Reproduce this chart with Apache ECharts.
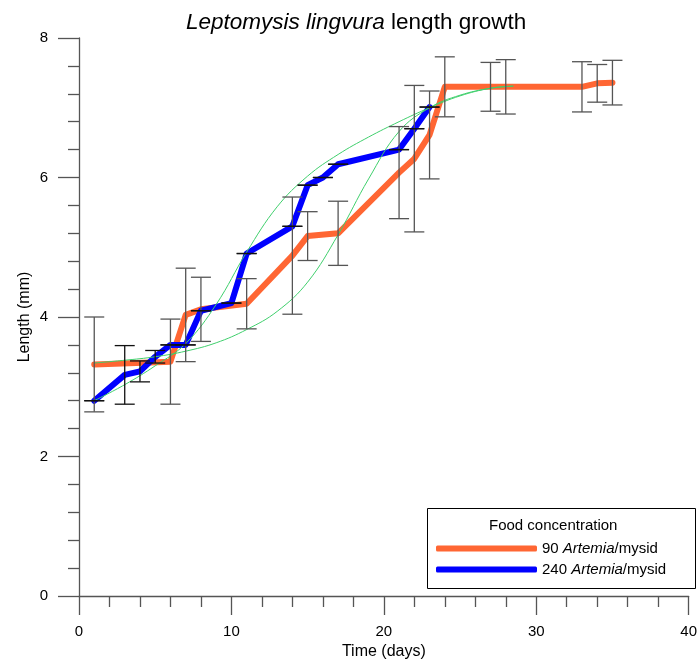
<!DOCTYPE html>
<html>
<head>
<meta charset="utf-8">
<script src="https://cdn.jsdelivr.net/npm/echarts@6/dist/echarts.min.js"></script>
<style>
  html, body { margin: 0; padding: 0; background: #fff; }
</style>
</head>
<body>
<div id="main" style="width: 700px;height:666px;"></div>
<script>
// 90 Artemia/mysid
var days90 = [1, 6, 7, 8, 11, 14, 15, 17, 21, 22, 23, 24, 27, 28, 33, 34, 35]
var len90 = [3.32, 3.36, 4.03, 4.11, 4.19, 4.88, 5.16, 5.20, 6.07, 6.27, 6.61, 7.30, 7.30, 7.30, 7.30, 7.35, 7.36]
var err90 = [0.68, 0.61, 0.67, 0.46, 0.36, 0.84, 0.35, 0.46, 0.66, 1.05, 0.63, 0.43, 0.35, 0.39, 0.36, 0.27, 0.32]

// 240 Artemia/mysid
var days240 = [1, 3, 4, 5, 6, 7, 8, 10, 11, 14, 15, 16, 17, 21, 22, 23]
var len240 = [2.80, 3.17, 3.22, 3.43, 3.60, 3.60, 4.09, 4.20, 4.91, 5.30, 5.89, 6.00, 6.19, 6.40, 6.70, 7.01]
var err240 = [0, 0.42, 0.15, 0.09, 0, 0, 0, 0, 0, 0, 0, 0, 0, 0, 0, 0]

// fitted growth curves (green)
var fitA_x = [1, 3, 5, 7, 9, 11, 13, 15, 17, 19, 21, 23, 25, 27, 28.5]
var fitA_y = [2.80, 3.03, 3.30, 3.62, 4.18, 4.93, 5.58, 6.02, 6.33, 6.58, 6.80, 7.00, 7.17, 7.28, 7.31]
var fitB_x = [1, 3, 5, 7, 9, 11, 13, 15, 17, 19, 21, 23, 25, 27, 28.5]
var fitB_y = [3.34, 3.38, 3.43, 3.51, 3.63, 3.82, 4.08, 4.50, 5.18, 5.98, 6.66, 7.00, 7.18, 7.28, 7.31]

var xTicks = [0, 40, 10]
var yTicks = [0, 8, 2]

var name90 = '90 Artemia/mysid'
var name240 = '240 Artemia/mysid'

var font = "'Liberation Sans', Arial, sans-serif"

function pairs(xs, ys) {
  return xs.map(function (x, i) { return [x, ys[i]] })
}
function bars(xs, ys, es) {
  return xs.map(function (x, i) { return [x, ys[i] - es[i], ys[i] + es[i]] })
}

function errorBar(color) {
  return function (params, api) {
    var x = api.value(0)
    var lo = api.coord([x, api.value(1)])
    var hi = api.coord([x, api.value(2)])
    var w = 10
    var st = { stroke: color, lineWidth: 1.3 }
    return {
      type: 'group',
      children: [
        { type: 'line', shape: { x1: lo[0], y1: lo[1], x2: hi[0], y2: hi[1] }, style: st },
        { type: 'line', shape: { x1: lo[0] - w, y1: lo[1], x2: lo[0] + w, y2: lo[1] }, style: st },
        { type: 'line', shape: { x1: hi[0] - w, y1: hi[1], x2: hi[0] + w, y2: hi[1] }, style: st }
      ]
    }
  }
}

var myChart = echarts.init(document.getElementById('main'))

var option = {
  animation: false,
  textStyle: { fontFamily: font },
  title: {
    text: '{i|Leptomysis lingvura}{n| length growth}',
    left: 181,
    top: 6,
    textStyle: {
      fontWeight: 'normal',
      rich: {
        i: { fontStyle: 'italic', fontWeight: 'normal', fontSize: 22.5, fontFamily: font, color: '#000' },
        n: { fontWeight: 'normal', fontSize: 22.5, fontFamily: font, color: '#000' }
      }
    }
  },
  grid: {
    left: 79,
    right: 9,
    top: 38,
    bottom: 70
  },
  graphic: [
    {
      type: 'rect',
      left: 427,
      top: 508,
      shape: { width: 268, height: 80 },
      style: { fill: '#fff', stroke: '#000', lineWidth: 1 },
      z: 10
    },
    {
      type: 'text',
      left: 489,
      top: 518,
      style: { text: 'Food concentration', fontSize: 15, fontFamily: font, fill: '#000' },
      z: 11
    }
  ],
  legend: {
    orient: 'vertical',
    left: 436,
    top: 541,
    padding: 0,
    icon: 'roundRect',
    itemWidth: 101,
    itemHeight: 6,
    itemGap: 6,
    z: 12,
    data: [name90, name240],
    formatter: function (name) {
      var p = name.split(' ')
      return '{n|' + p[0] + ' }{i|Artemia}{n|/mysid}'
    },
    textStyle: {
      rich: {
        n: { fontSize: 15, fontFamily: font, color: '#000', lineHeight: 18 },
        i: { fontSize: 15, fontFamily: font, fontStyle: 'italic', color: '#000', lineHeight: 18 }
      }
    }
  },
  xAxis: {
    type: 'value',
    min: xTicks[0],
    max: xTicks[1],
    interval: xTicks[2],
    name: 'Time (days)',
    nameLocation: 'middle',
    nameGap: 48,
    nameTextStyle: { fontSize: 16, color: '#000' },
    axisLine: { onZero: false, lineStyle: { color: '#555', width: 1.3 } },
    axisTick: { length: 19, lineStyle: { color: '#555', width: 1.3 } },
    minorTick: { show: true, splitNumber: 5, length: 11, lineStyle: { color: '#555', width: 1.3 } },
    axisLabel: { margin: 28, fontSize: 15, color: '#000' },
    splitLine: { show: false }
  },
  yAxis: {
    type: 'value',
    min: yTicks[0],
    max: yTicks[1],
    interval: yTicks[2],
    name: 'Length (mm)',
    nameLocation: 'middle',
    nameGap: 46,
    nameMoveOverlap: false,
    nameTextStyle: { fontSize: 16, color: '#000' },
    axisLine: { show: true, onZero: false, lineStyle: { color: '#555', width: 1.3 } },
    axisTick: { show: true, length: 21, lineStyle: { color: '#555', width: 1.3 } },
    minorTick: { show: true, splitNumber: 5, length: 11, lineStyle: { color: '#555', width: 1.3 } },
    axisLabel: { margin: 31, fontSize: 15, color: '#000' },
    splitLine: { show: false }
  },
  series: [
    {
      name: name90,
      type: 'line',
      data: pairs(days90, len90),
      showSymbol: false,
      symbol: 'none',
      color: '#ff6633',
      lineStyle: { color: '#ff6633', width: 6, cap: 'round', join: 'round' },
      z: 2
    },
    {
      name: name240,
      type: 'line',
      data: pairs(days240, len240),
      showSymbol: false,
      symbol: 'none',
      color: '#0000ff',
      lineStyle: { color: '#0000ff', width: 6, cap: 'round', join: 'round' },
      z: 3
    },
    {
      name: 'fitA',
      type: 'line',
      data: pairs(fitA_x, fitA_y),
      smooth: 0.4,
      showSymbol: false,
      symbol: 'none',
      lineStyle: { color: '#3fcf6c', width: 1 },
      z: 4
    },
    {
      name: 'fitB',
      type: 'line',
      data: pairs(fitB_x, fitB_y),
      smooth: 0.4,
      showSymbol: false,
      symbol: 'none',
      lineStyle: { color: '#3fcf6c', width: 1 },
      z: 4
    },
    {
      name: 'err90',
      type: 'custom',
      renderItem: errorBar('#555'),
      data: bars(days90, len90, err90),
      encode: { x: 0, y: [1, 2] },
      z: 5
    },
    {
      name: 'err240',
      type: 'custom',
      renderItem: errorBar('#111'),
      data: bars(days240, len240, err240),
      encode: { x: 0, y: [1, 2] },
      z: 5
    }
  ]
}

myChart.setOption(option)
</script>
</body>
</html>
